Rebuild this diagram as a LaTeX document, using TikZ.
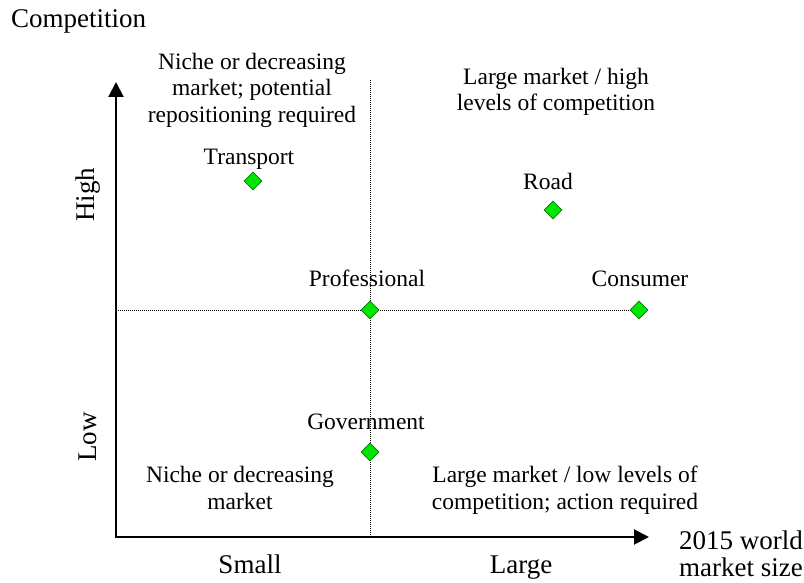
\documentclass[tikz,border=0pt]{standalone}
\usepackage{fontspec}
\setmainfont{Liberation Serif}
\usetikzlibrary{arrows.meta,shapes.geometric}
\definecolor{markfill}{RGB}{0,230,0}
\definecolor{markedge}{RGB}{0,125,0}
\begin{document}
\begin{tikzpicture}[x=1pt,y=-1pt,
  lbl/.style={font=\fontsize{23.5}{26.5}\selectfont, inner sep=0pt, align=center},
  axlbl/.style={font=\fontsize{27}{26.5}\selectfont, inner sep=0pt, align=center},
  marker/.style={diamond, draw=markedge, fill=markfill, line width=0.6pt,
                 minimum size=18pt, inner sep=0pt},
  axisline/.style={line width=2pt,
                   {Triangle[width=15pt,length=15pt]}-{Triangle[width=15pt,length=15pt]}},
  guide/.style={line width=1pt, dash pattern=on 1pt off 1pt}]
\useasboundingbox (0,0) rectangle (804,583);

% axis frame and quadrant dividers
\coordinate (O) at (116,537);
\coordinate (ytop) at (116,82);
\coordinate (xend) at (649,537);
\coordinate (vtop) at (370,80);
\coordinate (vbot) at (370,537);
\coordinate (hleft) at (116,310);

% data points
\node[marker] (trans) at (253,181) {};
\node[marker] (road)  at (553,210) {};
\coordinate (prof) at (370,310);
\coordinate (cons) at (639,310);
\coordinate (gov)  at (370,452);

\draw[guide] (vtop) -- (vbot);
\draw[guide] (hleft) -- (cons);
\draw[axisline] (ytop) -- (O) -- (xend);

% markers sitting on the guide lines
\node[marker] (profM) at (prof) {};
\node[marker] (govM)  at (gov) {};
\node[marker] (consM) at (cons) {};

% point labels
\node[lbl, anchor=base] (transL) at (249,165) {Transport};
\node[lbl, anchor=base] (roadL)  at (548,190) {Road};
\node[lbl, anchor=base] (profL)  at (367,287) {Professional};
\node[lbl, anchor=base] (consL)  at (640,287) {Consumer};
\node[lbl, anchor=base] (govL)   at (366,429) {Government};

% quadrant descriptions
\node[lbl] (qTL) at (252,90) {Niche or decreasing\\market; potential\\repositioning required};
\node[lbl] (qTR) at (556,92) {Large market / high\\levels of competition};
\node[lbl] (qBL) at (240,488) {Niche or decreasing\\market};
\node[lbl] (qBR) at (565,490) {Large market / low levels of\\competition; action required};

% axis labels
\node[axlbl, anchor=base west] (yttl) at (11,28) {Competition};
\node[axlbl, rotate=90] (hi) at (88,195) {High};
\node[axlbl, rotate=90] (lo) at (88,437) {Low};
\node[axlbl, anchor=base] (sm) at (250,573) {Small};
\node[axlbl, anchor=base] (lg) at (521,573) {Large};
\node[axlbl] (xttl) at (741,554) {2015 world\\market size};
\end{tikzpicture}
\end{document}
